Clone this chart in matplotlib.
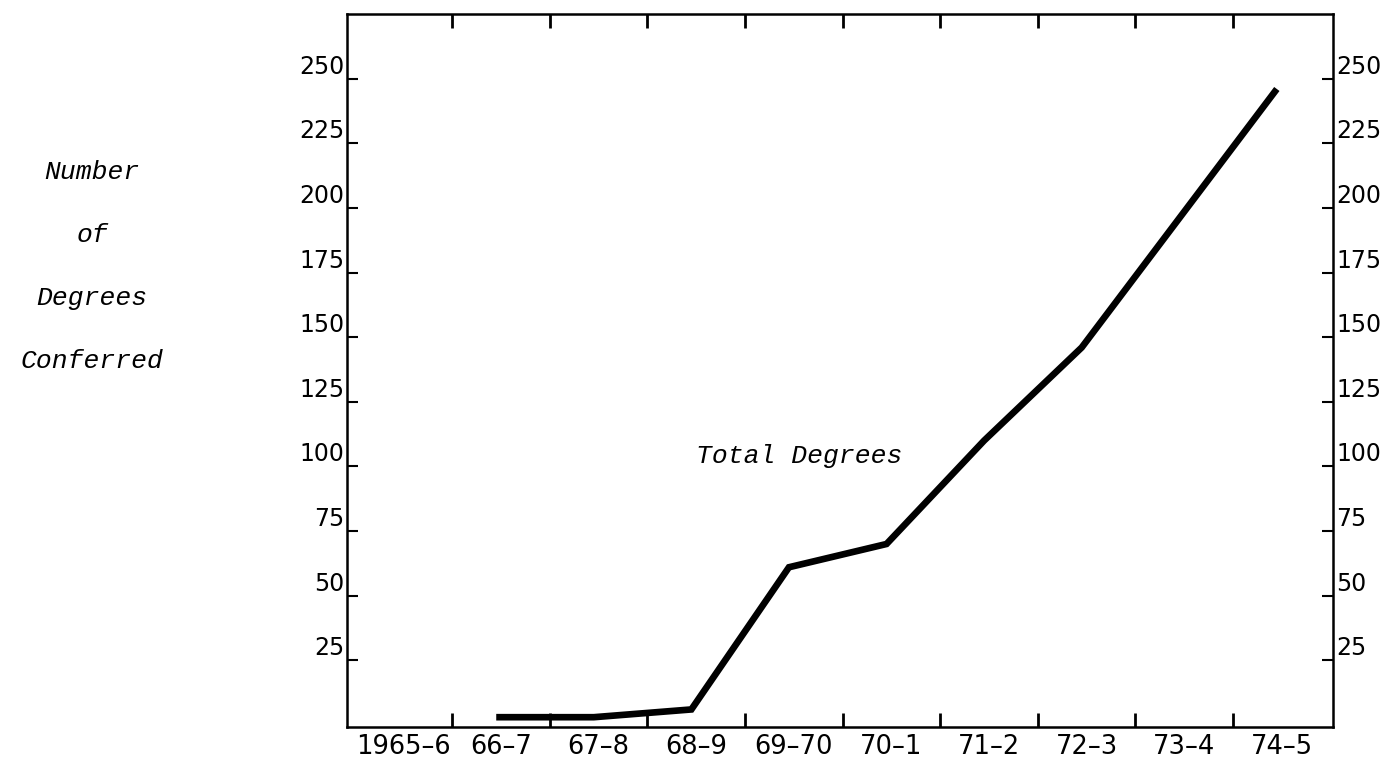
import numpy as np
import matplotlib
matplotlib.use("Agg")
import matplotlib.pyplot as plt

# academic years on the x axis
years = ['1965–6', '66–7', '67–8', '68–9', '69–70', '70–1', '71–2', '72–3', '73–4', '74–5']
# total degrees conferred, first year has no data
degrees = [None, 3, 3, 6, 61, 70, 110, 146, 196, 246]
y_ticks = [25, 50, 75, 100, 125, 150, 175, 200, 225, 250]

fig = plt.figure(figsize=(13.9, 7.62), dpi=100)
ax = fig.add_axes([0.2496, 0.0459, 0.7097, 0.9357])

xs = [i + 0.45 for i, v in enumerate(degrees) if v is not None]
ys = [v for v in degrees if v is not None]
ax.plot(xs, ys, color='black', lw=4.8, solid_joinstyle='miter', solid_capstyle='butt')

ax.set_xlim(-0.08, 10.03)
ax.set_ylim(-0.8, 275)

# ticks sit on the boundaries between years, labels in the middle
ax.set_xticks(np.arange(1, 10))
ax.set_xticklabels([])
ax.set_xticks(np.arange(10) + 0.5, minor=True)
ax.set_xticklabels(years, minor=True, fontsize=18.5)
ax.tick_params(axis='x', which='minor', length=0, pad=5)
ax.tick_params(axis='x', which='major', direction='in', length=10, width=2,
               top=True, bottom=True)

ax.set_yticks(y_ticks)
ax.set_yticklabels([str(t) for t in y_ticks], fontsize=17)
ax.tick_params(axis='y', direction='in', length=8, width=1.5, pad=2,
               left=True, right=True, labelleft=True, labelright=True)
for lab in ax.get_yticklabels():
    lab.set_va('bottom')

for s in ax.spines.values():
    s.set_linewidth(1.8)

mono = dict(family='Liberation Mono', style='italic', fontsize=19)
for txt, ypix in zip(['Number', 'of', 'Degrees', 'Conferred'], [172, 235, 298, 361]):
    fig.text(92 / 1390, 1 - ypix / 762, txt, ha='center', va='center', **mono)

ax.text(4.55, 104, 'Total Degrees', ha='center', va='center', **mono)

fig.savefig('out.png', dpi=100)
